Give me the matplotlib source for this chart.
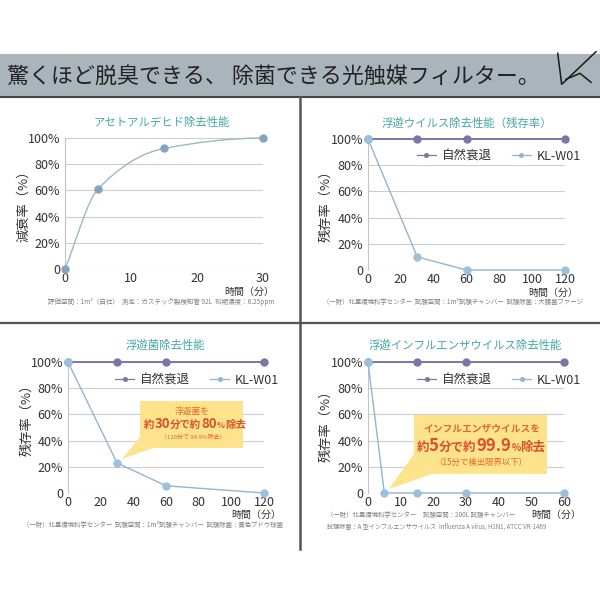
import matplotlib
matplotlib.use("Agg")
import matplotlib.pyplot as plt
from matplotlib.patches import Rectangle, Polygon, PathPatch
from matplotlib.path import Path
from matplotlib.lines import Line2D
from matplotlib.offsetbox import TextArea, HPacker, AnnotationBbox

plt.rcParams['font.family'] = ['Noto Sans CJK JP', 'DejaVu Sans']

# ---- data ----
acet_time = [0, 5, 15, 30]
acet_rate = [0, 61, 92, 100]

virus_time = [0, 30, 60, 120]
virus_natural = [100, 100, 100, 100]
virus_kl = [100, 10, 0, 0]

bact_time = [0, 30, 60, 120]
bact_natural = [100, 100, 100, 100]
bact_kl = [100, 23, 5.5, 0]

flu_time_natural = [0, 15, 30, 60]
flu_natural = [100, 100, 100, 100]
flu_time_kl = [0, 5, 15, 30, 60]
flu_kl = [100, 0, 0, 0, 0]

pct_ticks = [0, 20, 40, 60, 80, 100]
pct_labels = ['0', '20%', '40%', '60%', '80%', '100%']
legend_labels = ['自然衰退', 'KL-W01']

# colours
TEAL = '#45a8a4'
NAT = '#7a77a5'
KL = '#93b4d0'
ACET_LINE = '#9bb8c0'
ACET_PT = '#86a3c3'
TXT = '#333333'
NOTE = '#808080'
YEL = '#fce38c'
ORA = '#e2672c'
RED = '#d9512a'

W = H = 600
fig = plt.figure(figsize=(6, 6), dpi=100)
fig.patch.set_facecolor('white')

bg = fig.add_axes([0, 0, 1, 1], zorder=0)
bg.set_xlim(0, W)
bg.set_ylim(H, 0)
bg.axis('off')

ov = fig.add_axes([0, 0, 1, 1], zorder=10)
ov.set_xlim(0, W)
ov.set_ylim(H, 0)
ov.axis('off')

# ---- header ----
bg.add_patch(Rectangle((0, 54), W, 43, color='#aab4bb', lw=0))
bg.plot([0, W], [97, 97], color='#444444', lw=1.5)
bg.text(7, 77, '驚くほど脱臭できる、 除菌できる光触媒フィルター。', fontsize=15.8,
        color='#222222', va='center', ha='left')
# logo
bg.plot([557.7, 561.7, 596], [53.3, 84.3, 51.7], color='#1a1a1a', lw=1.1)
bg.plot([566, 580, 591], [79.3, 73.3, 82.3], color='#1a1a1a', lw=1.1)

# dividers
bg.plot([0, W], [323, 323], color='#555555', lw=1.6)
bg.plot([300, 300], [97, 549], color='#555555', lw=1.8)


def chart_axes(x0, x1, ytop, ybot, xmax, xticks):
    ax = fig.add_axes([x0 / W, 1 - ybot / H, (x1 - x0) / W, (ybot - ytop) / H], zorder=2)
    ax.set_facecolor('none')
    ax.set_xlim(0, xmax)
    ax.set_ylim(0, 100)
    ax.set_xticks(xticks)
    ax.set_yticks(pct_ticks)
    ax.set_yticklabels(pct_labels)
    ax.yaxis.grid(True, color='#cdcdcd', lw=0.8)
    ax.set_axisbelow(True)
    for s in ['top', 'right', 'bottom']:
        ax.spines[s].set_visible(False)
    ax.spines['left'].set_color('#c4c4c4')
    ax.spines['left'].set_linewidth(0.8)
    ax.tick_params(length=0, labelsize=9, labelcolor=TXT)
    ax.tick_params(axis='y', pad=3.5)
    ax.tick_params(axis='x', pad=2)
    return ax


def smooth_path(xs, ys):
    n = len(xs)
    h = [xs[i + 1] - xs[i] for i in range(n - 1)]
    d = [(ys[i + 1] - ys[i]) / h[i] for i in range(n - 1)]
    m = [d[0]]
    for k in range(1, n - 1):
        w1 = 2 * h[k] + h[k - 1]
        w2 = h[k] + 2 * h[k - 1]
        m.append((w1 + w2) / (w1 / d[k - 1] + w2 / d[k]))
    m.append(0.0)
    verts = [(xs[0], ys[0])]
    codes = [Path.MOVETO]
    for i in range(n - 1):
        verts += [(xs[i] + h[i] / 3, ys[i] + m[i] * h[i] / 3),
                  (xs[i + 1] - h[i] / 3, ys[i + 1] - m[i + 1] * h[i] / 3),
                  (xs[i + 1], ys[i + 1])]
        codes += [Path.CURVE4] * 3
    return Path(verts, codes)


def legend(ax, cx, cy):
    handles = [Line2D([], [], color=NAT, lw=0.9, marker='o', ms=2.6),
               Line2D([], [], color=KL, lw=0.9, marker='o', ms=2.6)]
    ax.legend(handles, legend_labels, loc='center', bbox_to_anchor=(cx, cy), ncol=2,
              frameon=False, fontsize=9, handlelength=1.5, handletextpad=0.5,
              columnspacing=1.6, labelcolor=TXT)


def two_series(ax, t_nat, nat, t_kl, kl):
    ax.plot(t_nat, nat, color=NAT, lw=1.4, marker='o', ms=5, clip_on=False, zorder=3)
    ax.plot(t_kl, kl, color=KL, lw=1.0, marker='o', ms=5, mfc='#9cc0dc', mec='#9cc0dc',
            clip_on=False, zorder=4)


def labels(ylab, yx, yy, xr, xy, title, tx, ty):
    bg.text(tx, ty, title, color=TEAL, fontsize=8.2, ha='center', va='center')
    bg.text(yx, yy, ylab, color=TXT, fontsize=9.5, rotation=90, ha='center', va='center')
    bg.text(xr, xy, '時間（分）', color=TXT, fontsize=7.2, ha='right', va='center')


# ---- top-left: acetaldehyde ----
ax1 = chart_axes(65, 263, 138, 269, 30, [0, 10, 20, 30])
ax1.add_patch(PathPatch(smooth_path(acet_time, acet_rate), fill=False, ec=ACET_LINE,
                        lw=1.0, clip_on=False))
ax1.plot(acet_time, acet_rate, ls='none', marker='o', ms=5, color=ACET_PT, clip_on=False, zorder=4)
labels('減衰率（%）', 24, 203, 274, 292, 'アセトアルデヒド除去性能', 162, 122)
bg.text(161, 302, '評価空間：1m³（自社）  測定：ガステック製検知管 92L  初期濃度：6.25ppm',
        fontsize=4.7, color=NOTE, ha='center', va='center')

# ---- top-right: airborne virus ----
ax2 = chart_axes(368, 565, 139, 270, 120, [0, 20, 40, 60, 80, 100, 120])
two_series(ax2, virus_time, virus_natural, virus_time, virus_kl)
legend(ax2, 0.665, 0.87)
labels('残存率（%）', 326, 203, 578, 293, '浮遊ウイルス除去性能（残存率）', 467, 123)
bg.text(453, 302, '（一財）北里環境科学センター  試験空間：1m³試験チャンバー  試験除菌：大腸菌ファージ',
        fontsize=4.6, color=NOTE, ha='center', va='center')

# ---- bottom-left: airborne bacteria ----
ax3 = chart_axes(68, 264, 362, 493, 120, [0, 20, 40, 60, 80, 100, 120])
two_series(ax3, bact_time, bact_natural, bact_time, bact_kl)
legend(ax3, 0.66, 0.86)
labels('残存率（%）', 27, 417, 281, 515, '浮遊菌除去性能', 165, 345)
bg.text(153, 525, '（一財）北里環境科学センター  試験空間：1m³試験チャンバー  試験除菌：黄色ブドウ球菌',
        fontsize=4.6, color=NOTE, ha='center', va='center')

# ---- bottom-right: influenza ----
ax4 = chart_axes(368, 564, 362, 493, 60, [0, 10, 20, 30, 40, 50, 60])
two_series(ax4, flu_time_natural, flu_natural, flu_time_kl, flu_kl)
legend(ax4, 0.67, 0.86)
labels('残存率（%）', 326, 423, 581, 515, '浮遊インフルエンザウイルス除去性能', 465, 345)
bg.text(327, 515, '（一財）北里環境科学センター     試験空間：200L 試験チャンバー',
        fontsize=4.6, color=NOTE, ha='left', va='center')
bg.text(327, 527, '試験除菌：A 型インフルエンザウイルス  Influenza A virus, H1N1, ATCC VR-1469',
        fontsize=4.4, color=NOTE, ha='left', va='center')


# ---- callouts ----
def callout(box, tail):
    x0, y0, x1, y1 = box
    ov.add_patch(Rectangle((x0, y0), x1 - x0, y1 - y0, color=YEL, lw=0))
    ov.add_patch(Polygon(tail, closed=True, color=YEL, lw=0))


def rich_line(parts, x, y):
    kids = [TextArea(s, textprops=dict(fontsize=fs, color=c, fontweight=wt)) for s, fs, c, wt in parts]
    pack = HPacker(children=kids, align='baseline', pad=0, sep=0)
    ov.add_artist(AnnotationBbox(pack, (x, y), xycoords='data', frameon=False,
                                 box_alignment=(0.5, 0.5), pad=0))


callout((140, 401, 243, 448), [(141, 436), (153, 448), (122, 459)])
ov.text(192, 411, '浮遊菌を', fontsize=6.3, color=ORA, ha='center', va='center')
rich_line([('約', 7.5, RED, 'bold'), ('30', 9.5, RED, 'bold'), ('分で約', 7.5, RED, 'bold'),
           ('80', 9.5, RED, 'bold'), ('%', 6, RED, 'bold'), ('除去', 7.5, RED, 'bold')], 195, 424)
ov.text(193, 437, '（120分で 99.9%除去）', fontsize=4.3, color=ORA, ha='center', va='center')

callout((414, 415, 547, 474), [(414, 454), (432, 474), (389, 489)])
ov.text(482, 428, 'インフルエンザウイルスを', fontsize=7, color=ORA, ha='center', va='center',
        fontweight='bold')
rich_line([('約', 9, RED, 'bold'), ('5', 12, RED, 'bold'), ('分で約', 9, RED, 'bold'),
           ('99.9', 12, RED, 'bold'), ('%', 7, RED, 'bold'), ('除去', 9, RED, 'bold')], 481, 446)
ov.text(481, 462, '（15分で検出限界以下）', fontsize=6, color=ORA, ha='center', va='center')

fig.savefig('out.png', dpi=100)
